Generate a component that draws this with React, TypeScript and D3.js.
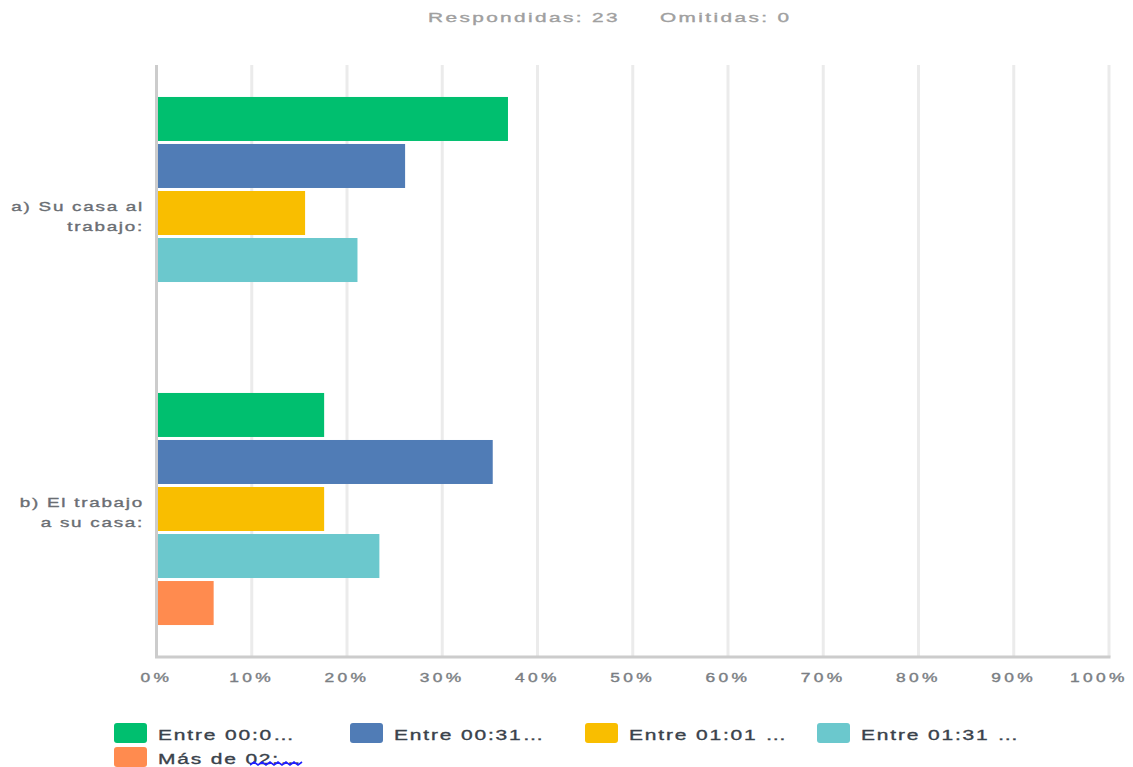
import React from "react";
import * as d3 from "d3";

const title = ["Respondidas: 23", "Omitidas: 0"];
const categories = ["a) Su casa al trabajo:", "b) El trabajo a su casa:"];
const categoryLines = [
  ["a) Su casa al", "trabajo:"],
  ["b) El trabajo", "a su casa:"],
];
const seriesNames = ["Entre 00:0…", "Entre 00:31…", "Entre 01:01 …", "Entre 01:31 …", "Más de 02:…"];
const seriesColors = ["#00BF6F", "#507CB6", "#F9BE00", "#6BC8CD", "#FF8B4F"];
// values per series, [a, b]
const s1 = [36.9, 17.6];
const s2 = [26.1, 35.3];
const s3 = [15.6, 17.6];
const s4 = [21.1, 23.4];
const s5 = [0, 6.0];
const seriesValues = [s1, s2, s3, s4, s5];
const tickValues = [0, 10, 20, 30, 40, 50, 60, 70, 80, 90, 100];

const W = 1133;
const H = 767;
const FONT = "'Liberation Sans', Arial, sans-serif";

function SText(props: {
  x: number; y: number; anchor?: string; sx?: number; ls?: number; size?: number; color?: string; children: any;
}) {
  const { x, y, anchor = "start", sx = 1.45, ls = 1.2, size = 13, color = "#666", children } = props;
  return (
    <g transform={`translate(${x},${y}) scale(${sx},1)`}>
      <text
        x={0}
        y={0}
        dy="0.35em"
        textAnchor={anchor}
        fontFamily={FONT}
        fontSize={size}
        fill={color}
        stroke={color}
        strokeWidth={0.35}
        style={{ letterSpacing: `${ls}px`, whiteSpace: "pre" }}
      >
        {children}
      </text>
    </g>
  );
}

export default function App() {
  const x = d3.scaleLinear().domain([0, 100]).range([156.5, 1109]);
  const y0 = d3.scaleBand<string>().domain(categories).range([65, 657]).paddingInner(0).paddingOuter(0);
  const y1 = d3
    .scaleBand<string>()
    .domain(seriesNames)
    .range([0, y0.bandwidth()])
    .paddingInner(0.064)
    .paddingOuter(0.68);

  const legendX = [114, 350, 585, 817];
  const legendRows = [723, 747];
  const legendItems = seriesNames.map((n, i) => ({
    name: n,
    color: seriesColors[i],
    x: legendX[i % 4],
    y: legendRows[Math.floor(i / 4)],
  }));

  return (
    <div style={{ position: "fixed", left: 0, top: 0, width: W, height: H, background: "#fff" }}>
      <svg width={W} height={H} style={{ display: "block" }}>
        {/* title */}
        <SText x={620} y={17} anchor="end" sx={1.6} ls={1.5} size={13} color="#a0a0a0">{title[0]}</SText>
        <SText x={660} y={17} anchor="start" sx={1.6} ls={1.5} size={13} color="#a0a0a0">{title[1]}</SText>

        {/* gridlines */}
        {tickValues.filter((t) => t > 0).map((t) => (
          <line key={t} x1={x(t)} x2={x(t)} y1={65} y2={657} stroke="#ebebeb" strokeWidth={3} />
        ))}

        {/* bars */}
        {categories.map((c, ci) => (
          <g key={c} transform={`translate(0,${y0(c)})`}>
            {seriesNames.map((s, si) => {
              const v = seriesValues[si][ci];
              if (!v) return null;
              return (
                <rect
                  key={s}
                  x={x(0) + 1.5}
                  y={y1(s)}
                  width={x(v) - x(0) - 1.5}
                  height={y1.bandwidth()}
                  fill={seriesColors[si]}
                />
              );
            })}
          </g>
        ))}

        {/* axes */}
        <line x1={x(0)} x2={x(0)} y1={65} y2={658} stroke="#cccccc" strokeWidth={3} />
        <line x1={x(0) - 1.5} x2={x(100) + 1.5} y1={657} y2={657} stroke="#cccccc" strokeWidth={3} />

        {/* category labels */}
        {categories.map((c, ci) => {
          const cy = (y0(c) as number) + y0.bandwidth() / 2;
          return (
            <g key={c}>
              <SText x={144} y={cy - 7} anchor="end" color="#6a6e73">{categoryLines[ci][0]}</SText>
              <SText x={144} y={cy + 13} anchor="end" color="#6a6e73">{categoryLines[ci][1]}</SText>
            </g>
          );
        })}

        {/* tick labels */}
        {tickValues.map((t, i) => (
          <SText
            key={t}
            x={i === tickValues.length - 1 ? x(t) - 10 : x(t)}
            y={678}
            anchor="middle"
            size={12}
            sx={1.45}
            ls={2.3}
            color="#7a7e83"
          >{`${t}%`}</SText>
        ))}

        {/* legend */}
        {legendItems.map((it, i) => (
          <g key={it.name}>
            <rect x={it.x} y={it.y} width={33} height={20} rx={3} fill={it.color} />
            <SText x={it.x + 44} y={it.y + 12} size={15} sx={1.4} ls={1.3} color="#3a424b">{it.name}</SText>
            {i === 4 && (
              <path
                d={d3.range(0, 14).map((k) => `${k === 0 ? "M" : "L"}${it.x + 136 + k * 4},${it.y + (k % 2 ? 15 : 18)}`).join(" ")}
                fill="none"
                stroke="#1f1fff"
                strokeWidth={1.6}
              />
            )}
          </g>
        ))}
      </svg>
    </div>
  );
}
